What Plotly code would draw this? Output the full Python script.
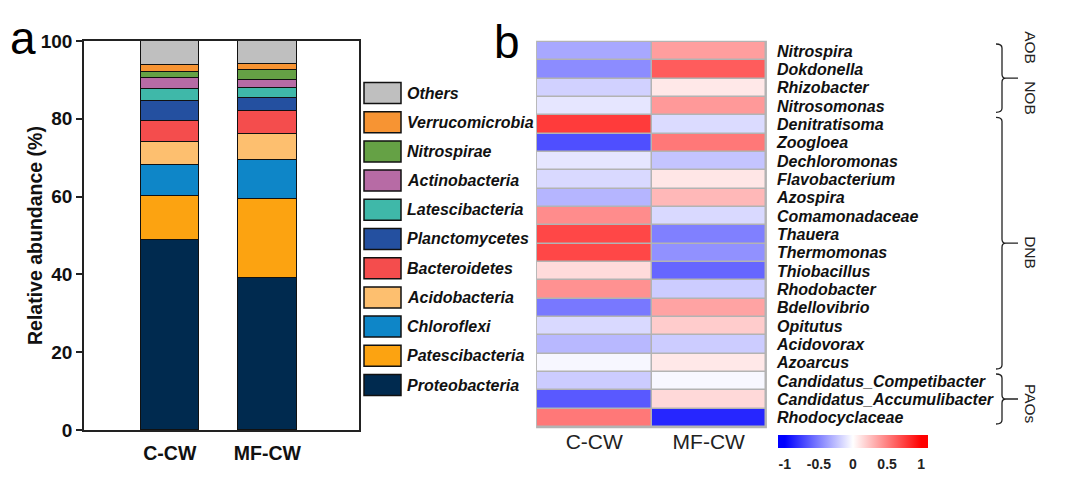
import plotly.graph_objects as go

# page places the figure 8px in from the window's top-left corner
OFF = 8
W, H = 1080 - 2 * OFF, 483 - 2 * OFF
FONT = "Liberation Sans, Arial, sans-serif"

# ---------------- data ----------------
samples = ["C-CW", "MF-CW"]
phyla = ["Proteobacteria", "Patescibacteria", "Chloroflexi", "Acidobacteria", "Bacteroidetes",
         "Planctomycetes", "Latescibacteria", "Actinobacteria", "Nitrospirae", "Verrucomicrobia", "Others"]
ccw_abund = [48.8, 11.4, 7.9, 5.9, 5.5, 5.2, 3.0, 2.9, 1.5, 1.8, 6.1]
mfcw_abund = [39.2, 20.3, 9.8, 6.7, 6.1, 3.2, 2.5, 2.2, 2.5, 1.5, 6.0]
phyla_colors = ["#002a4f", "#fca311", "#0e86c8", "#fdbf6f", "#f44d4d",
                "#2450a0", "#3fb8a9", "#b76ba5", "#65a145", "#f79433", "#bfbfbf"]

genera = ["Nitrospira", "Dokdonella", "Rhizobacter", "Nitrosomonas", "Denitratisoma", "Zoogloea",
          "Dechloromonas", "Flavobacterium", "Azospira", "Comamonadaceae", "Thauera", "Thermomonas",
          "Thiobacillus", "Rhodobacter", "Bdellovibrio", "Opitutus", "Acidovorax", "Azoarcus",
          "Candidatus_Competibacter", "Candidatus_Accumulibacter", "Rhodocyclaceae"]
ccw_z = [-0.34, -0.45, -0.18, -0.10, 0.77, -0.69, -0.10, -0.15, -0.29, 0.45, 0.72, 0.72,
         0.14, 0.43, -0.53, -0.15, -0.28, -0.03, -0.20, -0.65, 0.53]
mfcw_z = [0.38, 0.64, 0.09, 0.40, -0.14, 0.53, -0.23, 0.10, 0.28, -0.15, -0.50, -0.43,
          -0.60, -0.20, 0.36, 0.20, -0.20, 0.09, -0.03, 0.15, -0.85]
groups = [("AOB&nbsp;&nbsp;&nbsp;&nbsp;NOB", 0, 3), ("DNB", 4, 17), ("PAOs", 18, 20)]
cbar_ticks = [-1, -0.5, 0, 0.5, 1]
y_ticks = [0, 20, 40, 60, 80, 100]

# ---------------- helpers (window pixels -> paper) ----------------
def X(px):
    return (px - OFF) / W

def Y(py):
    return 1 - (py - OFF) / H

fig = go.Figure()

# stacked bars
for name, a, b, col in zip(phyla, ccw_abund, mfcw_abund, phyla_colors):
    fig.add_trace(go.Bar(x=samples, y=[a, b], name=name, width=0.6,
                         marker=dict(color=col, line=dict(color="#111", width=1.5)),
                         xaxis="x", yaxis="y", showlegend=False))

# heatmap
z = [[c, m] for c, m in zip(ccw_z, mfcw_z)]
zmin, zmax = -1.1, 1.1
lo = (-1 - zmin) / (zmax - zmin)
hi = (1 - zmin) / (zmax - zmin)
fig.add_trace(go.Heatmap(
    x=samples, y=genera, z=z, zmin=zmin, zmax=zmax, xaxis="x2", yaxis="y2",
    colorscale=[[0, "#0000ff"], [lo, "#0000ff"], [0.5, "#ffffff"], [hi, "#ff0000"], [1, "#ff0000"]],
    xgap=1.5, ygap=1.5, hoverongaps=False,
    colorbar=dict(orientation="h", x=X(853), xanchor="center", y=Y(435), yanchor="top",
                  len=150, lenmode="pixels", thickness=13, outlinewidth=0,
                  tickvals=cbar_ticks, ticktext=[("%g" % t) for t in cbar_ticks],
                  ticks="outside", ticklen=5, tickcolor="rgba(0,0,0,0)",
                  tickfont=dict(family=FONT, size=14, color="#222", weight="bold"),
                  xpad=0, ypad=0)))

shapes = []
annotations = []

# heatmap gap background
shapes.append(dict(type="rect", xref="x2 domain", yref="y2 domain", x0=-0.004, x1=1.004,
                   y0=-0.003, y1=1.003, fillcolor="#b3b3b3", line=dict(width=0), layer="below"))

# legend (manual, large swatches)
leg_top, leg_step = 93, 29.2
for i, (name, col) in enumerate(zip(phyla[::-1], phyla_colors[::-1])):
    yc = leg_top + i * leg_step
    shapes.append(dict(type="rect", xref="paper", yref="paper", x0=X(364), x1=X(401),
                       y0=Y(yc + 10.5), y1=Y(yc - 10.5), fillcolor=col,
                       line=dict(color="#111", width=1.5)))
    annotations.append(dict(xref="paper", yref="paper", x=X(405), y=Y(yc), xanchor="left",
                            yanchor="middle", showarrow=False,
                            text="<b><i>%s</i></b>" % name,
                            font=dict(family=FONT, size=16, color="#111")))

# brackets
hm_top, hm_bot = 42, 427
rh = (hm_bot - hm_top) / len(genera)
x0b, x1b, x2b, r = 996, 1002, 1018, 4
label_shift = [-5, 9, 5]
for (label, r0, r1), dy in zip(groups, label_shift):
    top = hm_top + r0 * rh + 2
    bot = hm_top + (r1 + 1) * rh - 3
    mid = (top + bot) / 2
    path = (f"M {X(x0b)},{Y(top)} Q {X(x1b)},{Y(top)} {X(x1b)},{Y(top + r)} "
            f"L {X(x1b)},{Y(mid - r)} Q {X(x1b)},{Y(mid)} {X(x1b + r)},{Y(mid)} "
            f"L {X(x2b)},{Y(mid)} M {X(x1b + r)},{Y(mid)} Q {X(x1b)},{Y(mid)} {X(x1b)},{Y(mid + r)} "
            f"L {X(x1b)},{Y(bot - r)} Q {X(x1b)},{Y(bot)} {X(x0b)},{Y(bot)}")
    shapes.append(dict(type="path", xref="paper", yref="paper", path=path,
                       line=dict(color="#222", width=1.3)))
    annotations.append(dict(xref="paper", yref="paper", x=X(1031), y=Y(mid + dy), textangle=90,
                            xanchor="center", yanchor="middle", showarrow=False, text=label,
                            font=dict(family=FONT, size=15.5, color="#222")))

# y-axis title of panel a
annotations.append(dict(xref="paper", yref="paper", x=X(35), y=Y(236), textangle=-90,
                        xanchor="center", yanchor="middle", showarrow=False,
                        text="<b>Relative abundance (%)</b>",
                        font=dict(family=FONT, size=19.5, color="#111")))

# panel labels
annotations.append(dict(xref="paper", yref="paper", x=X(23), y=Y(38), xanchor="center",
                        yanchor="middle", showarrow=False, text="a",
                        font=dict(family=FONT, size=46, color="#000")))
annotations.append(dict(xref="paper", yref="paper", x=X(507), y=Y(42), xanchor="center",
                        yanchor="middle", showarrow=False, text="b",
                        font=dict(family=FONT, size=46, color="#000")))

fig.update_layout(
    width=W, height=H, margin=dict(l=0, r=0, t=0, b=0, pad=0, autoexpand=False),
    paper_bgcolor="white", plot_bgcolor="white",
    barmode="stack", bargap=0,
    font=dict(family=FONT, color="#111"),
    shapes=shapes, annotations=annotations,
    xaxis=dict(domain=[X(84), X(359)], range=[-0.88, 1.94], showline=True, mirror=True,
               linecolor="#222", linewidth=1.5, ticks="", ticklabelstandoff=5, automargin=False,
               tickfont=dict(family=FONT, size=19.5, color="#111", weight="bold"),
               showgrid=False, zeroline=False, fixedrange=True),
    yaxis=dict(domain=[Y(430), Y(41)], range=[0, 100], tickvals=y_ticks, showline=True,
               mirror=True, linecolor="#222", linewidth=1.5, ticks="outside", ticklen=6,
               tickwidth=1.5, tickcolor="#222", showgrid=False, zeroline=False, automargin=False,
               tickfont=dict(family=FONT, size=19, color="#111", weight="bold")),
    xaxis2=dict(domain=[X(537), X(766)], anchor="y2", showline=False, showgrid=False,
                zeroline=False, ticks="", ticklabelstandoff=0, automargin=False,
                tickfont=dict(family=FONT, size=21, color="#222")),
    yaxis2=dict(domain=[Y(hm_bot), Y(hm_top)], anchor="x2", side="right", autorange="reversed",
                showline=False, showgrid=False, zeroline=False, ticks="", ticklabelstandoff=10,
                automargin=False,
                tickvals=genera, ticktext=["<b><i>%s</i></b>" % g for g in genera],
                tickfont=dict(family=FONT, size=16, color="#111")),
)

fig.write_html("out.html")
